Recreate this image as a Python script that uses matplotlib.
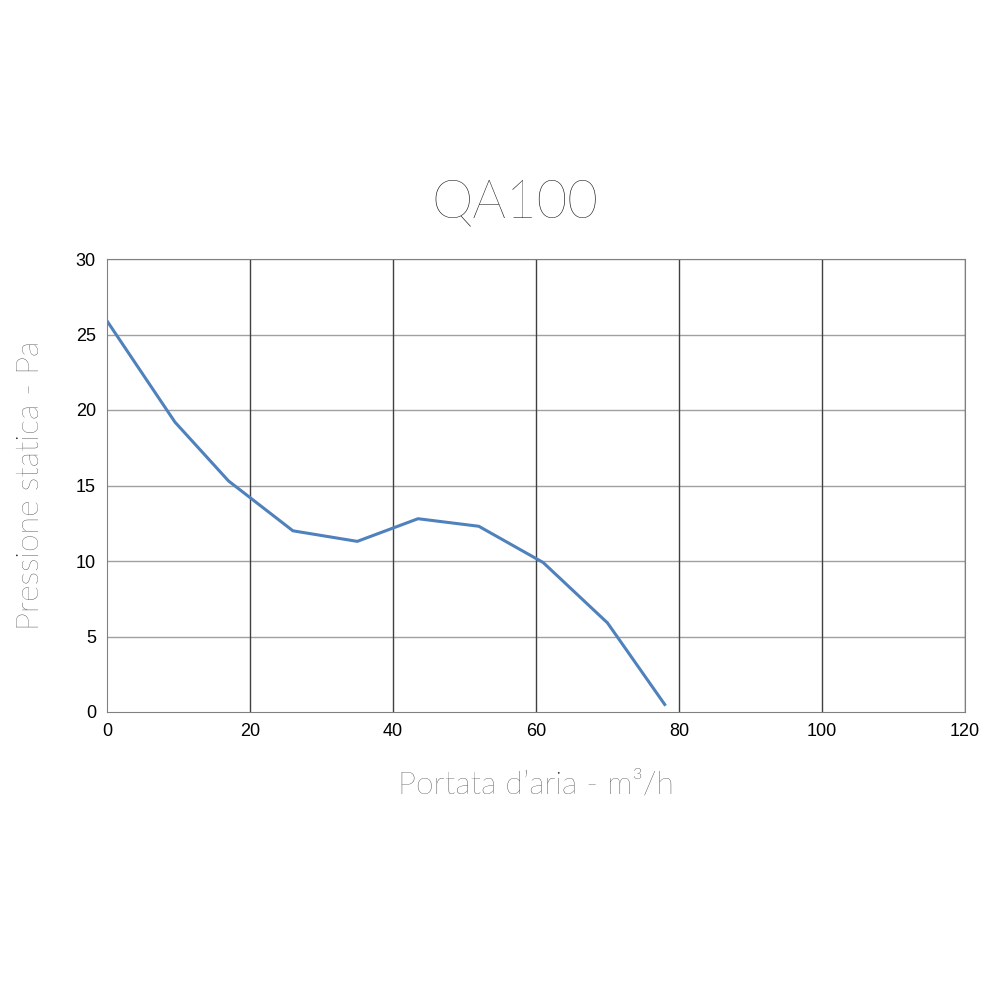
import matplotlib
matplotlib.use("Agg")
import matplotlib.pyplot as plt

flow = [0, 9.5, 17, 26, 35, 43.5, 52, 61, 70, 78]
pressure = [25.9, 19.2, 15.3, 12.0, 11.3, 12.8, 12.3, 9.9, 5.9, 0.5]
xticks = [0, 20, 40, 60, 80, 100, 120]
yticks = [0, 5, 10, 15, 20, 25, 30]

fig = plt.figure(figsize=(10, 10), dpi=100)
ax = fig.add_axes([0.107, 0.288, 0.858, 0.453])
ax.set_xlim(0, 120)
ax.set_ylim(0, 30)
ax.set_xticks(xticks)
ax.set_yticks(yticks)
for y in yticks[1:]:
    ax.axhline(y, color="#a0a0a0", lw=1, zorder=0)
for x in xticks[1:]:
    ax.axvline(x, color="#404040", lw=1, zorder=0)
for s in ax.spines.values():
    s.set_color("#808080")
ax.tick_params(length=0, labelsize=13, pad=8)
for lab in ax.get_xticklabels() + ax.get_yticklabels():
    lab.set_family(["Liberation Sans", "DejaVu Sans"])
ax.plot(flow, pressure, color="#4f81bd", lw=2.2)
lf = ["Lato", "DejaVu Sans"]
fig.text(0.515, 0.797, "QA100", ha="center", va="center", fontsize=38, fontweight="light", family=lf, color="#111111")
ax.set_xlabel("Portata d\u2019aria - m\u00b3/h", fontsize=23, fontweight="light", family=lf, color="#222222", labelpad=22)
ax.set_ylabel("Pressione statica - Pa", fontsize=23, fontweight="light", family=lf, color="#222222", labelpad=22)
fig.savefig("out.png", dpi=100, facecolor="white")
